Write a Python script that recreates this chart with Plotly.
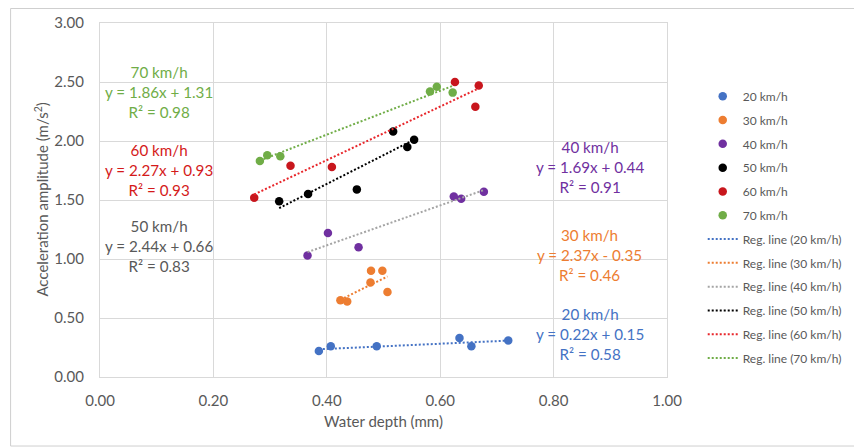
import plotly.graph_objects as go

speeds = ["20 km/h", "30 km/h", "40 km/h", "50 km/h", "60 km/h", "70 km/h"]

depth_20 = [0.386, 0.407, 0.488, 0.634, 0.655, 0.720]
acc_20 = [0.22, 0.26, 0.26, 0.33, 0.26, 0.31]
depth_30 = [0.424, 0.436, 0.477, 0.478, 0.498, 0.507]
acc_30 = [0.65, 0.64, 0.80, 0.90, 0.90, 0.72]
depth_40 = [0.366, 0.402, 0.456, 0.624, 0.637, 0.677]
acc_40 = [1.03, 1.22, 1.10, 1.53, 1.51, 1.57]
depth_50 = [0.316, 0.367, 0.453, 0.517, 0.542, 0.554]
acc_50 = [1.49, 1.55, 1.59, 2.08, 1.95, 2.01]
depth_60 = [0.272, 0.336, 0.409, 0.626, 0.662, 0.668]
acc_60 = [1.52, 1.79, 1.78, 2.50, 2.29, 2.47]
depth_70 = [0.282, 0.295, 0.318, 0.582, 0.594, 0.622]
acc_70 = [1.83, 1.88, 1.87, 2.42, 2.46, 2.41]

slopes = [0.22, 2.37, 1.69, 2.44, 2.27, 1.86]
intercepts = [0.15, -0.35, 0.44, 0.66, 0.93, 1.31]
r_squared = [0.58, 0.46, 0.91, 0.83, 0.93, 0.98]

x_ticks = [0.0, 0.2, 0.4, 0.6, 0.8, 1.0]
y_ticks = [0.0, 0.5, 1.0, 1.5, 2.0, 2.5, 3.0]

depths = [depth_20, depth_30, depth_40, depth_50, depth_60, depth_70]
accs = [acc_20, acc_30, acc_40, acc_50, acc_60, acc_70]

marker_colors = ["#4472C4", "#ED7D31", "#7030A0", "#000000", "#C8161D", "#70AD47"]
line_colors = ["#4472C4", "#ED7D31", "#A5A5A5", "#000000", "#E8262B", "#70AD47"]
text_colors = ["#4472C4", "#ED7D31", "#7030A0", "#595959", "#D41A1A", "#70AD47"]
# annotation anchor (x, y) in data units, centre of the 3-line block
ann_pos = [(0.864, 0.362), (0.864, 1.034), (0.864, 1.777),
           (0.1036, 1.113), (0.1036, 1.754), (0.1036, 2.413)]

FONT = "Lato, 'Open Sans', sans-serif"

fig = go.Figure()

for i, s in enumerate(speeds):
    fig.add_trace(go.Scatter(
        x=depths[i], y=accs[i], mode="markers", name=s,
        legendgroup=f"m{i}",
        marker=dict(color=marker_colors[i], size=8.5),
    ))

for i, s in enumerate(speeds):
    xs = [min(depths[i]), max(depths[i])]
    ys = [slopes[i] * x + intercepts[i] for x in xs]
    fig.add_trace(go.Scatter(
        x=xs, y=ys, mode="lines", name=f"Reg. line ({s})",
        legendgroup=f"l{i}",
        line=dict(color=line_colors[i], width=2, dash="2px,2px"),
    ))

for i, s in enumerate(speeds):
    b = intercepts[i]
    sign = "+" if b >= 0 else "-"
    txt = (f"{s}<br>y = {slopes[i]:.2f}x {sign} {abs(b):.2f}"
           f"<br>R² = {r_squared[i]:.2f}")
    fig.add_annotation(
        x=ann_pos[i][0], y=ann_pos[i][1], xref="x", yref="y",
        text=txt, showarrow=False, align="center",
        font=dict(family=FONT, size=15.2, color=text_colors[i]),
        xanchor="center", yanchor="middle",
    )

# y-axis title
fig.add_annotation(
    x=-0.1048, y=0.5, xref="paper", yref="paper",
    text="Acceleration amplitude (m/s<sup>2</sup>)", textangle=-90,
    showarrow=False, xanchor="center", yanchor="middle",
    font=dict(family=FONT, size=15, color="#595959"),
)

# chart outer border
fig.add_shape(type="rect", xref="paper", yref="paper",
              x0=-0.1577, x1=1.3348, y0=-0.195, y1=1.041,
              line=dict(color="#CFCFCF", width=1), layer="above")

axis_common = dict(
    showgrid=True, gridcolor="#D9D9D9", gridwidth=1,
    showline=True, linecolor="#D9D9D9", linewidth=1, mirror=True,
    zeroline=False, ticks="", automargin=False,
    tickfont=dict(family=FONT, size=15, color="#595959"),
    tickformat=".2f",
)

fig.update_layout(
    width=862, height=448,
    margin=dict(l=91.5, r=203, t=15, b=79, autoexpand=False),
    paper_bgcolor="white", plot_bgcolor="white",
    font=dict(family=FONT, color="#595959"),
    xaxis=dict(range=[0, 1], tickvals=x_ticks, ticklabelstandoff=10,
               title=dict(text="Water depth (mm)", standoff=8,
                          font=dict(family=FONT, size=15, color="#595959")),
               **axis_common),
    yaxis=dict(range=[0, 3], tickvals=y_ticks, ticklabelstandoff=12,
               **axis_common),
    legend=dict(x=1.063, xanchor="left", y=0.834, yanchor="top",
                tracegroupgap=4.8, bgcolor="rgba(0,0,0,0)",
                font=dict(family=FONT, size=12, color="#595959")),
    showlegend=True,
)

fig.write_html("out.html")
